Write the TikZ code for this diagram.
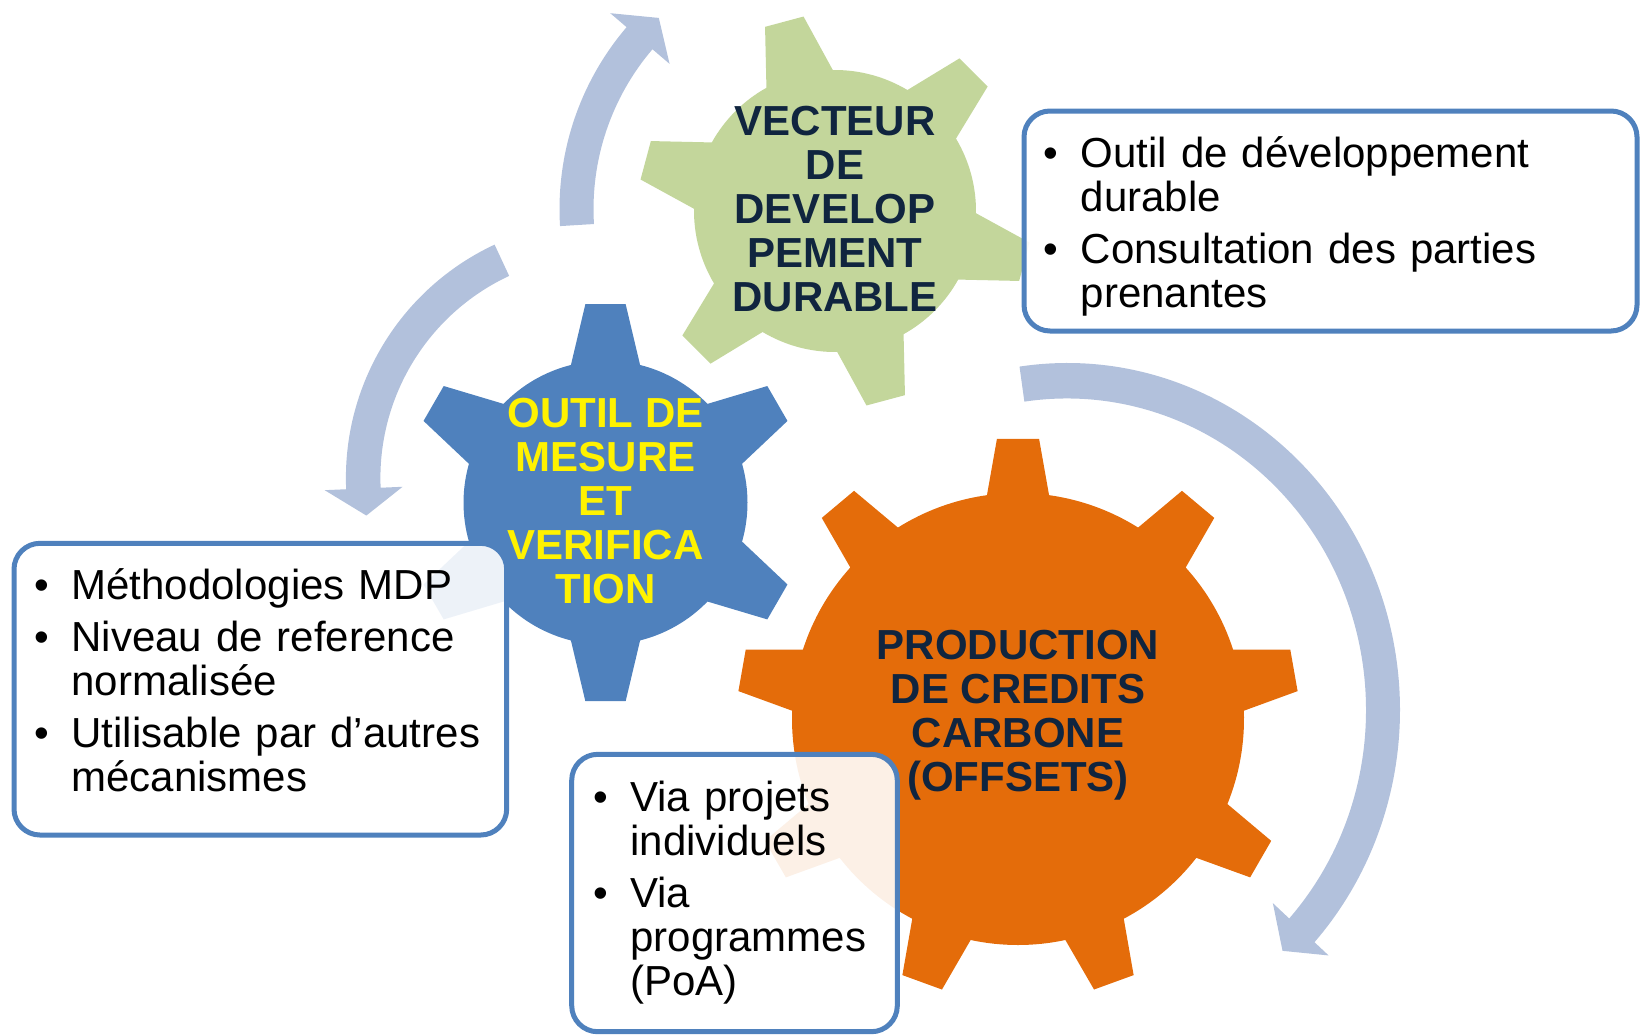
\documentclass[tikz,border=0pt]{standalone}
\usepackage{fontspec}
\setmainfont{Liberation Sans}
\definecolor{gearblue}{HTML}{4F81BD}
\definecolor{geargreen}{HTML}{C3D69B}
\definecolor{gearorange}{HTML}{E46C0A}
\definecolor{navytext}{HTML}{10253F}
\definecolor{arrowblue}{RGB}{178,193,220}
\definecolor{boxline}{HTML}{4F81BD}
\newcommand{\mybul}{\makebox[18.5pt][l]{•}}
\newcommand{\myind}{\hspace*{18.5pt}}
\begin{document}
\begin{tikzpicture}[x=0.5pt,y=-0.5pt,
  geartext/.style={align=center, font=\fontsize{21}{22}\selectfont\bfseries, inner sep=0pt},
  infobox/.style={draw=boxline, line width=2.5pt, rounded corners=13pt, fill=white, fill opacity=0.9, inner sep=0pt},
  boxtext/.style={anchor=base west, inner sep=0pt, align=left, text width=300pt, font=\fontsize{21}{22}\selectfont},
  circarrow/.style={fill=arrowblue}]
\useasboundingbox (0,0) rectangle (1641,1034);

% circular arrows
\begin{scope}[shift={(839.5,209)}]
\fill[circarrow] (176.5:280) arc[start angle=176.5, end angle=220.5, radius=280]
  -- (220.5:301.5) -- (226.6:263) -- (220.5:223.5) -- (220.5:246)
  arc[start angle=220.5, end angle=176.5, radius=246] -- cycle;
\end{scope}
\begin{scope}[shift={(603.4,478)}]
\fill[circarrow] (245:257.5) arc[start angle=245, end angle=177.5, radius=257.5]
  -- (177.5:279) -- (171:240) -- (177.5:201) -- (177.5:223)
  arc[start angle=177.5, end angle=245, radius=223] -- cycle;
\end{scope}
\begin{scope}[shift={(1067,710)}, yscale=1.042]
\fill[circarrow] (261.8:333) arc[start angle=261.8, end angle=402, radius=333]
  -- (402:352) -- (407:316) -- (402:277) -- (402:299)
  arc[start angle=402, end angle=261.8, radius=299] -- cycle;
\end{scope}

% gears
\begin{scope}[shift={(1018,719)}]
\fill[gearorange] ({30-7.9}:226) \foreach \a in {30,70,...,350}{
  -- ({\a-7.9}:226) -- ({\a-4.3}:281) -- ({\a+4.3}:281) -- ({\a+7.9}:226)
  arc[start angle={\a+7.9}, end angle={\a+32.1}, radius=226]} -- cycle;
\end{scope}
\begin{scope}[shift={(605.5,502.7)}]
\fill[gearblue] ({30-14.1}:142) \foreach \a in {30,90,...,330}{
  -- ({\a-14.1}:142) -- ({\a-5.8}:199.5) -- ({\a+5.8}:199.5) -- ({\a+14.1}:142)
  arc[start angle={\a+14.1}, end angle={\a+45.9}, radius=142]} -- cycle;
\end{scope}
\begin{scope}[shift={(835,211)}]
\fill[geargreen] ({15-14.1}:141) \foreach \a in {15,75,...,315}{
  -- ({\a-14.1}:141) -- ({\a-5.8}:197) -- ({\a+5.8}:197) -- ({\a+14.1}:141)
  arc[start angle={\a+14.1}, end angle={\a+45.9}, radius=141]} -- cycle;
\end{scope}

% gear labels
\node[geartext, text=navytext] (gv) at (835,209) {VECTEUR\\DE\\DEVELOP\\PEMENT\\DURABLE};
\node[geartext, text=yellow] (gm) at (605.5,501.5) {OUTIL DE\\MESURE\\ET\\VERIFICA\\TION};
\node[geartext, text=navytext] (gp) at (1018,715) {PRODUCTION\\DE CREDITS\\CARBONE\\(OFFSETS)};

% boxes
\node[infobox, minimum width=306.5pt, minimum height=110pt] (b1) at (1330.5,221) {};
\node[infobox, minimum width=246.35pt, minimum height=145.85pt] (b2) at (260.35,689.15) {};
\node[infobox, minimum width=162.8pt, minimum height=138.7pt] (b3) at (734.5,893) {};

\node[boxtext] (t1) at (1043.5,167) {\mybul Outil de développement\\\myind durable\\[4pt]\mybul Consultation des parties\\\myind prenantes};
\node[boxtext] (t2) at (34.2,599) {\mybul Méthodologies MDP\\[4pt]\mybul Niveau de reference\\\myind normalisée\\[4pt]\mybul Utilisable par d’autres\\\myind mécanismes};
\node[boxtext] (t3) at (593,811) {\mybul Via projets\\\myind individuels\\[4pt]\mybul Via\\\myind programmes\\\myind (PoA)};
\end{tikzpicture}
\end{document}
